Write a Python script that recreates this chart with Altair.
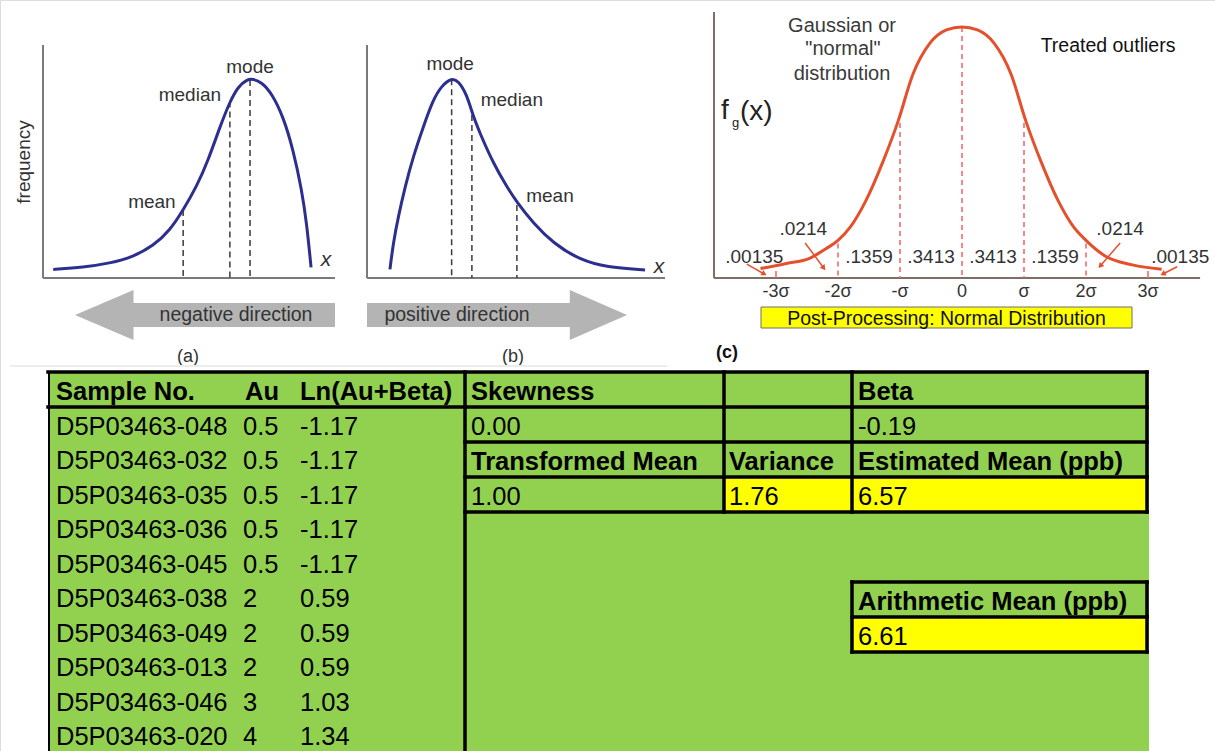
import math
import altair as alt
import pandas as pd

FONT = "Liberation Sans"
INK = "#333333"
NAVY = "#2c2f8e"
AXIS_GREY = "#7a7a7a"
ARROW_GREY = "#b4b4b4"
RED = "#e5502c"
PINK = "#f46a6a"
TAUPE = "#7d6f66"
GREEN = "#92d050"
YELLOW = "#ffff00"

# ---------------- (a) negatively skewed distribution ----------------
neg_x = [0.35, 1.38, 2.29, 3.09, 3.78, 4.35, 4.80, 5.26, 5.66, 6.06, 6.40,
         6.69, 6.98, 7.18, 7.49, 7.83, 8.23, 8.57, 8.86, 9.03, 9.18]
neg_freq = [0.037, 0.046, 0.063, 0.091, 0.138, 0.205, 0.292, 0.392, 0.506, 0.649, 0.757,
            0.823, 0.851, 0.855, 0.840, 0.793, 0.692, 0.549, 0.378, 0.235, 0.046]
neg_stat = ["mean", "median", "mode"]
neg_stat_x = [4.80, 6.40, 7.09]
neg_stat_freq = [0.292, 0.757, 0.850]

# ---------------- (b) positively skewed distribution ----------------
pos_x = [0.77, 0.88, 1.05, 1.28, 1.55, 1.89, 2.22, 2.51, 2.84, 3.06, 3.35,
         3.53, 3.79, 4.24, 4.69, 5.02, 5.58, 6.25, 7.15, 8.04, 9.33]
pos_freq = [0.037, 0.149, 0.263, 0.392, 0.521, 0.649, 0.766, 0.826, 0.858, 0.847, 0.787,
            0.707, 0.621, 0.492, 0.392, 0.327, 0.235, 0.149, 0.077, 0.046, 0.034]
pos_stat = ["mode", "median", "mean"]
pos_stat_x = [2.84, 3.52, 5.03]
pos_stat_freq = [0.853, 0.700, 0.313]

# ---------------- (c) normal distribution (x in sigma units) ----------------
gauss_z = [-3.25, -2.85, -2.45, -2.2, -2.0, -1.8, -1.55, -1.27, -1.03, -0.79, -0.52, -0.25, 0.0,
           0.25, 0.52, 0.79, 1.03, 1.27, 1.55, 1.8, 2.0, 2.3, 2.75, 3.22]
gauss_f = [0.004, 0.012, 0.021, 0.036, 0.050, 0.072, 0.115, 0.180, 0.245, 0.322, 0.372, 0.394, 0.399,
           0.394, 0.372, 0.322, 0.245, 0.180, 0.115, 0.072, 0.050, 0.025, 0.010, 0.003]
cut_z = [-2, -1, 0, 1, 2]
cut_f = [0.045, 0.242, 0.399, 0.242, 0.045]
band_z = [-3.35, -2.56, -1.5, -0.5, 0.5, 1.5, 2.55, 3.52]
band_p = [0.00135, 0.0214, 0.1359, 0.3413, 0.3413, 0.1359, 0.0214, 0.00135]
sigma_z = [-3, -2, -1, 0, 1, 2, 3]
sigma_lbl = ["-3σ", "-2σ", "-σ", "0", "σ", "2σ", "3σ"]

# ---------------- table ----------------
sample_no = ["D5P03463-048", "D5P03463-032", "D5P03463-035", "D5P03463-036", "D5P03463-045",
             "D5P03463-038", "D5P03463-049", "D5P03463-013", "D5P03463-046", "D5P03463-020"]
au_ppb = [0.5, 0.5, 0.5, 0.5, 0.5, 2, 2, 2, 3, 4]
ln_au_beta = [-1.17, -1.17, -1.17, -1.17, -1.17, 0.59, 0.59, 0.59, 1.03, 1.34]
skewness = 0.00
beta = -0.19
transformed_mean = 1.00
variance = 1.76
estimated_mean = 6.57
arithmetic_mean = 6.61

ONE = pd.DataFrame({"k": [0]})


def note(text, x, y, size=19, color=INK, align="center", baseline="alphabetic", **kw):
    return alt.Chart(ONE).mark_text(
        text=text, font=FONT, fontSize=size, color=color, align=align, baseline=baseline, **kw
    ).encode(x=alt.value(x), y=alt.value(y))


def qx(field, sc):
    return alt.X(f"{field}:Q", scale=sc, axis=None)


def qy(field, sc):
    return alt.Y(f"{field}:Q", scale=sc, axis=None)


LEFT_ARROW = "M-1,0 L-0.55,-0.192 L-0.55,-0.092 L1,-0.092 L1,0.092 L-0.55,0.092 L-0.55,0.192 Z"
RIGHT_ARROW = "M1,0 L0.56,-0.192 L0.56,-0.092 L-1,-0.092 L-1,0.092 L0.56,0.092 L0.56,0.192 Z"


def skewed_panel(xs, fs, names, sx, sf, label_pts, x_rng, x_mark, arrow, arrow_cx,
                 caption, caption_cx, tag, tag_cx, ylabel=False):
    xs_ = alt.Scale(domain=[0, 10], range=x_rng, nice=False, zero=False)
    ys_ = alt.Scale(domain=[0, 1], range=[278, 45], nice=False, zero=False)
    axes = pd.DataFrame({"x": [0, 0], "x2": [10, 0], "y": [0, 0], "y2": [0, 1]})
    axis_layer = alt.Chart(axes).mark_rule(color=AXIS_GREY, strokeWidth=2).encode(
        x=qx("x", xs_), x2="x2:Q", y=qy("y", ys_), y2="y2:Q")
    stats = pd.DataFrame({
        "name": names, "x": sx, "f": sf, "base": [0] * len(names),
        "lx": [p[0] for p in label_pts], "lf": [p[1] for p in label_pts],
    })
    drops = alt.Chart(stats).mark_rule(color="#3a3a3a", strokeWidth=1.5, strokeDash=[6, 4]).encode(
        x=qx("x", xs_), y=qy("f", ys_), y2="base:Q")
    curve = alt.Chart(pd.DataFrame({"x": xs, "f": fs})).mark_line(
        color=NAVY, strokeWidth=3, interpolate="basis").encode(x=qx("x", xs_), y=qy("f", ys_))
    names_layer = alt.Chart(stats).mark_text(
        font=FONT, fontSize=19, color=INK, align="center", baseline="alphabetic").encode(
        x=qx("lx", xs_), y=qy("lf", ys_), text="name:N")
    arrow_layer = alt.Chart(ONE).mark_point(
        shape=arrow, size=260 * 260, filled=True, color=ARROW_GREY, opacity=1, strokeWidth=0
    ).encode(x=alt.value(arrow_cx), y=alt.value(315))
    layers = [axis_layer, drops, curve, names_layer,
              note("x", x_mark[0], x_mark[1], size=21, fontStyle="italic"),
              arrow_layer,
              note(caption, caption_cx, 315, size=19.5, baseline="middle"),
              note(tag, tag_cx, 362, size=18)]
    if ylabel:
        layers.append(note("frequency", 24, 162, size=19, angle=270, baseline="middle"))
    return alt.layer(*layers)


panel_a = skewed_panel(neg_x, neg_freq, neg_stat, neg_stat_x, neg_stat_freq,
                       [(3.73, 0.30), (5.03, 0.76), (7.09, 0.881)],
                       [43, 335], (326, 266), LEFT_ARROW, 205,
                       "negative direction", 236, "(a)", 188, ylabel=True)
panel_b = skewed_panel(pos_x, pos_freq, pos_stat, pos_stat_x, pos_stat_freq,
                       [(2.79, 0.893), (4.86, 0.738), (6.14, 0.327)],
                       [367, 665], (659, 273), RIGHT_ARROW, 497,
                       "positive direction", 457, "(b)", 513)

# ---------------- panel (c) ----------------
xc = alt.Scale(domain=[-4, 4], range=[714, 1210], nice=False, zero=False)
yc = alt.Scale(domain=[0, 0.4], range=[271, 26.3], nice=False, zero=False)

c_axes = alt.layer(
    alt.Chart(pd.DataFrame({"x": [-4]})).mark_rule(color=TAUPE, strokeWidth=2).encode(
        x=qx("x", xc), y=alt.value(278), y2=alt.value(12)),
    alt.Chart(pd.DataFrame({"x": [-4], "x2": [3.84]})).mark_rule(color=TAUPE, strokeWidth=2).encode(
        x=qx("x", xc), x2="x2:Q", y=alt.value(278)),
)
c_cuts = alt.Chart(pd.DataFrame({"z": cut_z, "f": cut_f})).mark_rule(
    color=PINK, strokeWidth=1.6, strokeDash=[5, 4]).encode(
    x=qx("z", xc), y=qy("f", yc), y2=alt.value(278))
c_ticks = alt.Chart(pd.DataFrame({"z": [-3, 3]})).mark_rule(color=PINK, strokeWidth=1.6).encode(
    x=qx("z", xc), y=alt.value(271), y2=alt.value(278))
c_curve = alt.Chart(pd.DataFrame({"z": gauss_z, "f": gauss_f})).mark_line(
    color=RED, strokeWidth=3, interpolate="monotone").encode(x=qx("z", xc), y=qy("f", yc))

band_label_f = [0.013, 0.059, 0.013, 0.013, 0.013, 0.013, 0.059, 0.013]
bands = pd.DataFrame({
    "z": band_z, "f": band_label_f,
    "txt": [f"{p:.5g}".lstrip("0") for p in band_p],
})
c_bands = alt.Chart(bands).mark_text(font=FONT, fontSize=19, color=INK, align="center",
                                     baseline="alphabetic").encode(
    x=qx("z", xc), y=qy("f", yc), text="txt:N")

sig = pd.DataFrame({"z": sigma_z, "f": [-0.0425] * len(sigma_z), "txt": sigma_lbl})
c_sig = alt.Chart(sig).mark_text(font=FONT, fontSize=18, color=INK, align="center",
                                 baseline="alphabetic").encode(
    x=qx("z", xc), y=qy("f", yc), text="txt:N")

# small pointers into the tails
tail = pd.DataFrame({
    "z1": [-3.47, -2.53, 2.55, 3.47], "f1": [0.0114, 0.0458, 0.0458, 0.0070],
    "z2": [-3.19, -2.23, 2.23, 3.24], "f2": [-0.0049, 0.0049, 0.0082, -0.0049],
})
tail["ang"] = [
    math.degrees(math.atan2((r.z2 - r.z1) * 62, (r.f2 - r.f1) * 611.7)) % 360
    for r in tail.itertuples()
]
c_tail = alt.Chart(tail).mark_rule(color=RED, strokeWidth=1.5).encode(
    x=qx("z1", xc), x2="z2:Q", y=qy("f1", yc), y2="f2:Q")
c_heads = alt.Chart(tail).mark_point(shape="triangle-up", size=38, filled=True, color=RED,
                                     opacity=1).encode(
    x=qx("z2", xc), y=qy("f2", yc), angle=alt.Angle("ang:Q", scale=None))

c_box = alt.Chart(ONE).mark_rect(color=YELLOW, stroke="#6e6e6e", strokeWidth=1).encode(
    x=alt.value(761), x2=alt.value(1132), y=alt.value(307), y2=alt.value(328))

panel_c = alt.layer(
    c_axes, c_cuts, c_ticks, c_curve, c_tail, c_heads, c_bands, c_sig, c_box,
    note("Post-Processing: Normal Distribution", 946.5, 325, size=19.5, color="#111111"),
    note("Gaussian or", 842, 32, size=20, color="#3a3a3a"),
    note('"normal"', 843, 55, size=20, color="#3a3a3a"),
    note("distribution", 842, 80, size=20, color="#3a3a3a"),
    note("Treated outliers", 1108, 52, size=19.5, color="#111111"),
    note("f", 721, 119, size=28, color="#222222", align="left"),
    note("g", 732, 127, size=13, color="#222222", align="left"),
    note("(x)", 740, 120, size=28, color="#222222", align="left"),
    note("(c)", 727, 358, size=18, color="#111111", fontWeight="bold"),
)

# ---------------- table ----------------
# rows are measured in units of the right-hand grid (35 px); the sample list runs a bit tighter
xt = alt.Scale(domain=[0, 1215], range=[0, 1215], nice=False, zero=False)
yt = alt.Scale(domain=[0, 11], range=[372, 757], nice=False, zero=False)
BOTTOM = 10.83
ROW_PX = 35.0
LIST_PITCH = 34.45 / ROW_PX
L0, L1, C1, C2, R = 48, 465, 724, 852, 1147

cells = pd.DataFrame([
    {"x": L0, "x2": R + 2, "r": 0, "r2": BOTTOM, "fill": GREEN},
    {"x": C1, "x2": C2, "r": 3, "r2": 4, "fill": YELLOW},
    {"x": C2, "x2": R, "r": 3, "r2": 4, "fill": YELLOW},
    {"x": C2, "x2": R, "r": 7, "r2": 8, "fill": YELLOW},
])
t_cells = alt.Chart(cells).mark_rect().encode(
    x=qx("x", xt), x2="x2:Q", y=qy("r", yt), y2="r2:Q",
    color=alt.Color("fill:N", scale=None))

grid = []
grid.append((L0, R, 0, 0, 3.5))
grid.append((L0, L1, 1, 1, 3.5))
for r in (1, 2, 3, 4):
    grid.append((L1, R, r, r, 3.5))
grid.append((L0 + 1, L0 + 1, 0, BOTTOM, 2))
grid.append((L1, L1, 0, BOTTOM, 3.5))
for c in (C1, C2, R):
    grid.append((c, c, 0, 4, 3.5))
for r in (6, 7, 8):
    grid.append((C2, R, r, r, 3.5))
for c in (C2, R):
    grid.append((c, c, 6, 8, 3.5))
lines = pd.DataFrame(grid, columns=["x", "x2", "r", "r2", "w"])
t_lines = alt.Chart(lines).mark_rule(color="#000000", strokeCap="square").encode(
    x=qx("x", xt), x2="x2:Q", y=qy("r", yt), y2="r2:Q",
    strokeWidth=alt.StrokeWidth("w:Q", scale=None))

BASE = 0.8
heads = [("Sample No.", 56, 0), ("Au", 245, 0), ("Ln(Au+Beta)", 300, 0),
         ("Skewness", 471, 0), ("Beta", 858, 0),
         ("Transformed Mean", 471, 2), ("Variance", 729, 2), ("Estimated Mean (ppb)", 858, 2),
         ("Arithmetic Mean (ppb)", 858, 6)]
body = []
for i, (s, a, l) in enumerate(zip(sample_no, au_ppb, ln_au_beta)):
    row = 1 + i * LIST_PITCH
    body += [(s, 56, row), (f"{a:g}", 243, row), (f"{l:.2f}", 300, row)]
body += [(f"{skewness:.2f}", 471, 1), (f"{beta:.2f}", 858, 1),
         (f"{transformed_mean:.2f}", 471, 3), (f"{variance:.2f}", 729, 3),
         (f"{estimated_mean:.2f}", 858, 3), (f"{arithmetic_mean:.2f}", 858, 7)]

head_df = pd.DataFrame(heads, columns=["txt", "x", "r"])
head_df["b"] = head_df["r"] + BASE
body_df = pd.DataFrame(body, columns=["txt", "x", "r"])
body_df["b"] = body_df["r"] + BASE

t_head = alt.Chart(head_df).mark_text(font=FONT, fontSize=25.5, fontWeight="bold", color="#000000",
                                      align="left", baseline="alphabetic").encode(
    x=qx("x", xt), y=qy("b", yt), text="txt:N")
t_body = alt.Chart(body_df).mark_text(font=FONT, fontSize=25.5, color="#000000",
                                      align="left", baseline="alphabetic").encode(
    x=qx("x", xt), y=qy("b", yt), text="txt:N")
t_sep = alt.Chart(pd.DataFrame({"x": [10], "x2": [667]})).mark_rule(
    color="#ececec", strokeWidth=2).encode(x=qx("x", xt), x2="x2:Q", y=alt.value(366))

table = alt.layer(t_sep, t_cells, t_lines, t_head, t_body)

chart = alt.layer(panel_a, panel_b, panel_c, table).resolve_scale(
    x="independent", y="independent"
).properties(
    width=1215, height=751, padding=0, autosize="none", background="white"
).configure_view(stroke=None).configure(font=FONT)

chart.save("out.html", embed_options={"renderer": "svg", "actions": False})
